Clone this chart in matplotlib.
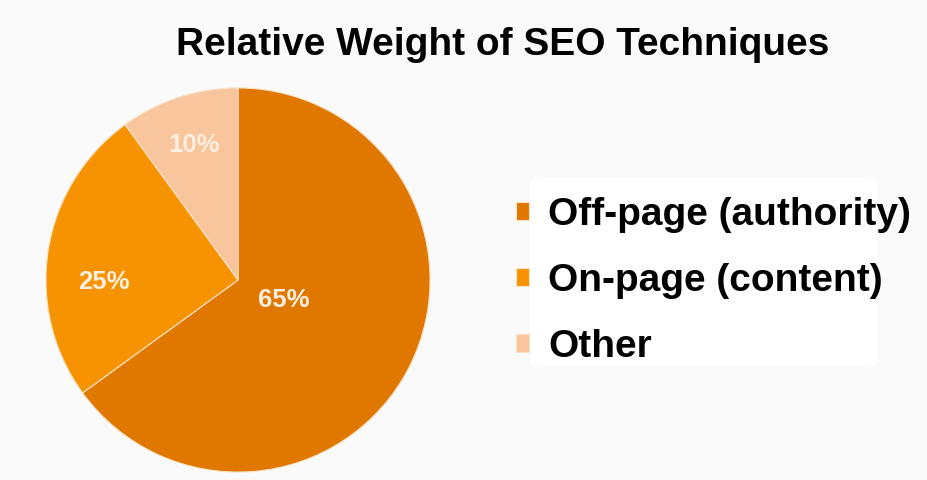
import math
import matplotlib.pyplot as plt
from matplotlib.patches import FancyBboxPatch

labels = ['Off-page (authority)', 'On-page (content)', 'Other']
shares = [65, 25, 10]
colors = ['#e07800', '#f79300', '#f9c59c']

# where the % labels sit (google-charts style): distance from centre, angle tweak in degrees
pct_dist = [0.26, 0.70, 0.74]
pct_turn = [4, 10, 0]

plt.rcParams['font.family'] = ['Liberation Sans', 'DejaVu Sans']

fig = plt.figure(figsize=(9.28, 4.8), dpi=100, facecolor='#fafafa')

# white box behind the legend
fig.patches.append(FancyBboxPatch((530/928, 1 - 367/480), 347/928, 189/480,
                                  boxstyle='round,pad=0,rounding_size=0.012',
                                  transform=fig.transFigure, facecolor='white',
                                  edgecolor='none', zorder=0))

ax = fig.add_axes([238/928 - 194/928, 1 - 474/480, 388/928, 388/480])
ax.set_facecolor('none')

wedges, _ = ax.pie(shares, colors=colors, startangle=90, counterclock=False,
                   radius=1, wedgeprops=dict(edgecolor='#fbe3c8', linewidth=0.8))

for w, v, d, t in zip(wedges, shares, pct_dist, pct_turn):
    ang = math.radians((w.theta1 + w.theta2) / 2 + t)
    ax.text(d * math.cos(ang), d * math.sin(ang), str(v) + '%', ha='center', va='center',
            color='#fcefe0', fontsize=18.5, fontweight='bold')
ax.set_xlim(-1.01, 1.01)
ax.set_ylim(-1.01, 1.01)
ax.set_aspect('equal')
ax.axis('off')

fig.text(0.5415, 1 - 55/480, 'Relative Weight of SEO Techniques', ha='center', va='baseline',
         fontsize=28, fontweight='bold', color='black')

leg = fig.legend(wedges, labels, loc='center left', bbox_to_anchor=(516/928, 1 - 281/480),
                 frameon=False, prop=dict(size=28, weight='bold'),
                 handlelength=0.33, handleheight=0.33, handletextpad=0.5,
                 labelspacing=0.78, borderpad=0, borderaxespad=0)

fig.savefig('out.png', dpi=100, facecolor=fig.get_facecolor())
